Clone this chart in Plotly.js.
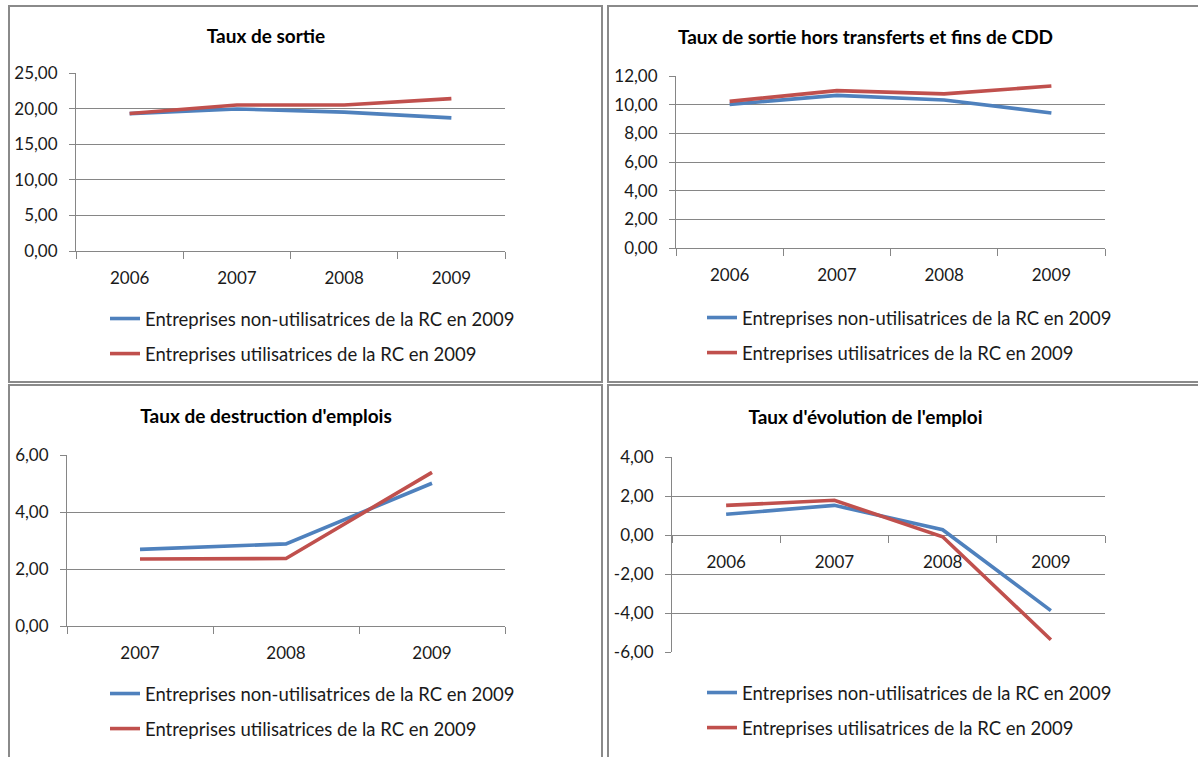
<!DOCTYPE html>
<html>
<head>
<meta charset="utf-8">
<script src="https://cdn.plot.ly/plotly-3.0.1.min.js"></script>
<style>
  html, body { margin: 0; padding: 0; background: #fff; width: 1198px; height: 757px; overflow: hidden; }
  .box { position: absolute; border: 2px solid #8a8a8a; box-sizing: border-box; background: #fff; overflow: hidden; }
  .plot { position: absolute; left: 0; top: 0; }
</style>
</head>
<body>
<div class="box" id="b1" style="left:8px; top:5px; width:595px; height:378px;"><div class="plot" id="p1"></div></div>
<div class="box" id="b2" style="left:607px; top:5px; width:600px; height:378px;"><div class="plot" id="p2"></div></div>
<div class="box" id="b3" style="left:8px; top:384px; width:595px; height:400px;"><div class="plot" id="p3"></div></div>
<div class="box" id="b4" style="left:607px; top:384px; width:600px; height:400px;"><div class="plot" id="p4"></div></div>
<script>
// ---- Data ----
const years4 = ['2006', '2007', '2008', '2009'];
const years3 = ['2007', '2008', '2009'];
const seriesNames = ['Entreprises non-utilisatrices de la RC en 2009', 'Entreprises utilisatrices de la RC en 2009'];

const sortieNon = [19.3, 19.95, 19.5, 18.7];
const sortieUtil = [19.3, 20.5, 20.5, 21.4];

const horsCddNon = [10.02, 10.65, 10.33, 9.42];
const horsCddUtil = [10.23, 10.98, 10.75, 11.3];

const destructionNon = [2.69, 2.88, 5.01];
const destructionUtil = [2.35, 2.37, 5.39];

const evolutionNon = [1.06, 1.52, 0.27, -3.88];
const evolutionUtil = [1.52, 1.78, -0.09, -5.37];

const ticks1 = [0, 5, 10, 15, 20, 25];
const ticks2 = [0, 2, 4, 6, 8, 10, 12];
const ticks3 = [0, 2, 4, 6];
const ticks4 = [-6, -4, -2, 0, 2, 4];

const titles = ['Taux de sortie', 'Taux de sortie hors transferts et fins de CDD', "Taux de destruction d'emplois", "Taux d'évolution de l'emploi"];

// ---- Style ----
const colors = ['#4F81BD', '#C0504D'];
const FONT = 'Lato, "Open Sans", sans-serif';
const GRID = '#868686';

function fmt(v) { return v.toFixed(2).replace('.', ','); }

function build(id, cfg) {
  const traces = [cfg.non, cfg.util].map((vals, i) => ({
    type: 'scatter', mode: 'lines', x: cfg.cats, y: vals,
    name: seriesNames[i], legendgroup: 'g' + i,
    line: { color: colors[i], width: 3.6 },
    hoverinfo: 'skip'
  }));
  const ymin = Math.min(...cfg.ticks), ymax = Math.max(...cfg.ticks);
  const zeroPos = (0 - ymin) / (ymax - ymin);
  const layout = {
    width: cfg.w, height: cfg.h,
    margin: Object.assign({ autoexpand: false, pad: 0 }, cfg.m),
    paper_bgcolor: '#fff', plot_bgcolor: '#fff',
    font: { family: FONT, size: 17, color: '#1a1a1a' },
    showlegend: true,
    title: {
      text: cfg.title, xref: 'container', yref: 'container',
      x: cfg.tx / cfg.w, y: 1 - cfg.ty / cfg.h, xanchor: 'center', yanchor: 'middle',
      font: { family: FONT, size: 19, weight: 700, color: '#000' }
    },
    legend: {
      xref: 'container', yref: 'container',
      x: cfg.lx / cfg.w, y: 1 - cfg.ly / cfg.h, xanchor: 'left', yanchor: 'top',
      traceorder: 'grouped', tracegroupgap: 8,
      font: { family: FONT, size: 18.5, color: '#1a1a1a' },
      bgcolor: 'rgba(0,0,0,0)', borderwidth: 0
    },
    xaxis: {
      type: 'category', range: [-0.5, cfg.cats.length - 0.5],
      showgrid: false, zeroline: false,
      showline: true, linecolor: GRID, linewidth: 1,
      ticks: 'outside', tickson: 'boundaries', ticklen: 7, tickcolor: GRID, tickwidth: 1,
      ticklabelstandoff: 12, tickangle: 0,
      tickfont: { family: FONT, size: 17, color: '#1a1a1a' },
      anchor: cfg.crossZero ? 'free' : 'y',
      position: cfg.crossZero ? zeroPos : 0,
      layer: 'below traces', fixedrange: true
    },
    yaxis: {
      range: [ymin, ymax], tickvals: cfg.ticks, ticktext: cfg.ticks.map(fmt),
      showgrid: true, gridcolor: GRID, gridwidth: 1, zeroline: false,
      showline: true, linecolor: GRID, linewidth: 1,
      ticks: 'outside', ticklen: 6, tickcolor: GRID, tickwidth: 1,
      ticklabelstandoff: 8,
      tickfont: { family: FONT, size: 17, color: '#1a1a1a' },
      layer: 'below traces', fixedrange: true
    }
  };
  Plotly.newPlot(id, traces, layout, { staticPlot: true, displayModeBar: false });
}

build('p1', { cats: years4, non: sortieNon, util: sortieUtil, ticks: ticks1, title: titles[0],
  w: 591, h: 374, m: { l: 66, r: 96, t: 66, b: 130 }, tx: 256, ty: 29, lx: 95, ly: 293 });
build('p2', { cats: years4, non: horsCddNon, util: horsCddUtil, ticks: ticks2, title: titles[1],
  w: 596, h: 374, m: { l: 67, r: 100, t: 69, b: 133 }, tx: 256.5, ty: 30, lx: 93, ly: 292 });
build('p3', { cats: years3, non: destructionNon, util: destructionUtil, ticks: ticks3, title: titles[2],
  w: 591, h: 396, m: { l: 57, r: 96, t: 69, b: 156 }, tx: 256, ty: 30, lx: 95, ly: 289 });
build('p4', { cats: years4, non: evolutionNon, util: evolutionUtil, ticks: ticks4, title: titles[3], crossZero: true,
  w: 596, h: 396, m: { l: 63, r: 100, t: 71, b: 130 }, tx: 256.5, ty: 31, lx: 93, ly: 288 });
</script>
</body>
</html>
